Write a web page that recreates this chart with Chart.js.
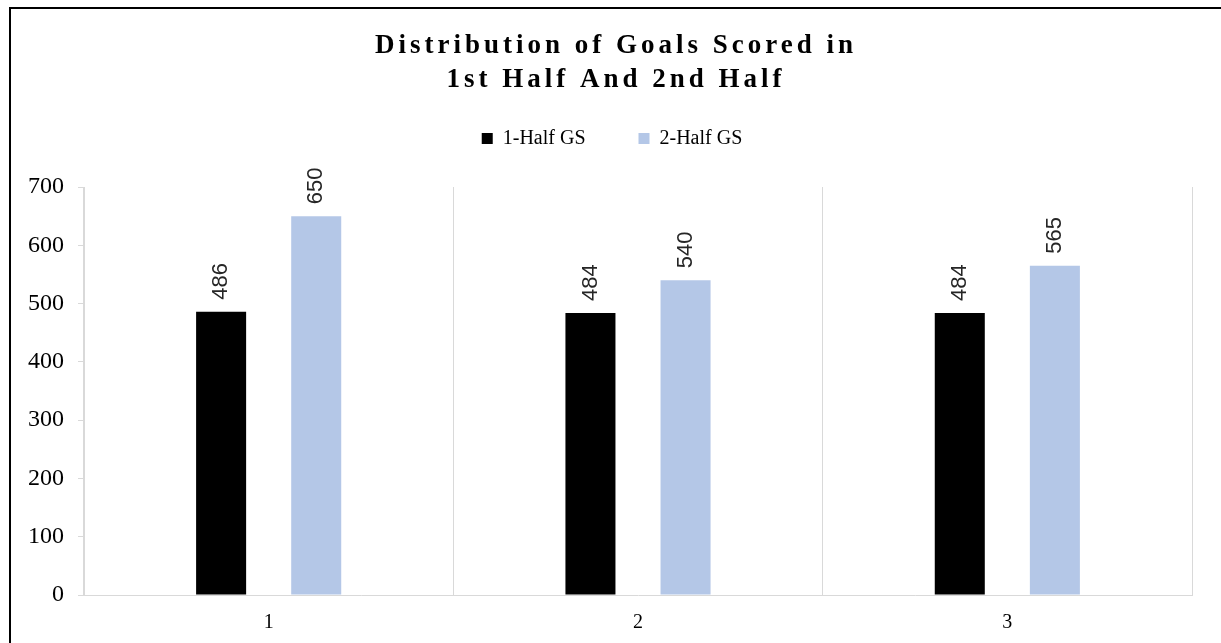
<!DOCTYPE html>
<html>
<head>
<meta charset="utf-8">
<script src="https://cdn.jsdelivr.net/npm/chart.js@4/dist/chart.umd.min.js"></script>
<style>
  html, body { margin: 0; padding: 0; background: #ffffff; }
  #wrap { width: 1221px; height: 643px; position: relative; }
</style>
</head>
<body>
<div id="wrap"><canvas id="chart" width="1221" height="643"></canvas></div>
<script>
// Match periods and goal counts per half
const periods = ['1', '2', '3'];
const firstHalfGoals = [486, 484, 484];
const secondHalfGoals = [650, 540, 565];
const seriesNames = ['1-Half GS', '2-Half GS'];
const yTicks = [0, 100, 200, 300, 400, 500, 600, 700];

const serif = "'Liberation Serif', 'Times New Roman', serif";
const sans = "'Liberation Sans', Arial, sans-serif";
const gridGray = '#d9d9d9';

// Header geometry
const TITLE_SIZE = 27;
const TITLE_LINE = 1.25;
const TITLE_PAD_TOP = 29;
const TITLE_PAD_BOTTOM = 5;
const PLOT_TOP = 187;
const TITLE_SHIFT_X = 20;      // center title over the plot rather than the canvas
const LEGEND_SHIFT_X = 16;
const LEGEND_SHIFT_Y = -26;

// Thin black frame along the top and left edges of the figure
const framePlugin = {
  id: 'frame',
  afterDraw(chart) {
    const ctx = chart.ctx;
    ctx.save();
    ctx.fillStyle = '#000000';
    ctx.fillRect(9, 7, chart.width - 9, 2);
    ctx.fillRect(9, 7, 2, chart.height - 7);
    ctx.restore();
  }
};

// Letter-spaced, shifted title and a legend block that reaches down to the plot top
const headerPlugin = {
  id: 'header',
  beforeLayout(chart) {
    const block = chart.titleBlock;
    if (block && !block._patched) {
      const orig = block.draw;
      block.draw = function () {
        const ctx = this.ctx;
        ctx.save();
        ctx.letterSpacing = '4px';
        ctx.translate(TITLE_SHIFT_X, 0);
        orig.call(this);
        ctx.restore();
      };
      block._patched = true;
    }
    const legend = chart.legend;
    if (legend && !legend._patched) {
      const origDraw = legend.draw;
      const origFit = legend.fit;
      legend.fit = function () {
        origFit.call(this);
        const titleH = chart.titleBlock ? chart.titleBlock.height : 0;
        this.height = PLOT_TOP - titleH;
      };
      legend.draw = function () {
        const ctx = this.ctx;
        ctx.save();
        ctx.translate(LEGEND_SHIFT_X, LEGEND_SHIFT_Y);
        origDraw.call(this);
        ctx.restore();
      };
      legend._patched = true;
    }
  }
};

// Rotated value labels above each bar
const valueLabelPlugin = {
  id: 'valueLabels',
  afterDatasetsDraw(chart) {
    const ctx = chart.ctx;
    ctx.save();
    ctx.font = '22px ' + sans;
    ctx.fillStyle = '#262626';
    ctx.textAlign = 'left';
    ctx.textBaseline = 'middle';
    chart.data.datasets.forEach((ds, di) => {
      const meta = chart.getDatasetMeta(di);
      meta.data.forEach((bar, i) => {
        ctx.save();
        ctx.translate(bar.x, bar.y - 12);
        ctx.rotate(-Math.PI / 2);
        ctx.fillText(String(ds.data[i]), 0, 0);
        ctx.restore();
      });
    });
    ctx.restore();
  }
};

new Chart(document.getElementById('chart'), {
  type: 'bar',
  data: {
    labels: periods,
    datasets: [
      { label: seriesNames[0], data: firstHalfGoals, backgroundColor: '#000000',
        categoryPercentage: 0.515, barPercentage: 0.526 },
      { label: seriesNames[1], data: secondHalfGoals, backgroundColor: '#b4c7e7',
        categoryPercentage: 0.515, barPercentage: 0.526 }
    ]
  },
  options: {
    responsive: false,
    animation: false,
    devicePixelRatio: 1,
    layout: { padding: { left: 0, right: 29, top: 0, bottom: 0 } },
    plugins: {
      title: {
        display: true,
        text: ['Distribution of Goals Scored in', '1st Half And 2nd Half'],
        color: '#000000',
        font: { family: serif, size: TITLE_SIZE, weight: 'bold', lineHeight: TITLE_LINE },
        padding: { top: TITLE_PAD_TOP, bottom: TITLE_PAD_BOTTOM }
      },
      legend: {
        display: true,
        position: 'top',
        labels: {
          color: '#000000',
          font: { family: serif, size: 20 },
          boxWidth: 11,
          boxHeight: 11,
          padding: 53
        }
      },
      tooltip: { enabled: false }
    },
    scales: {
      x: {
        offset: true,
        grid: { display: true, offset: true, drawTicks: false, color: gridGray, lineWidth: 1 },
        border: { display: true, color: gridGray, width: 1 },
        ticks: { color: '#000000', font: { family: serif, size: 20 }, padding: 16 },
        afterFit(scale) { scale.height = 48; }
      },
      y: {
        min: 0,
        max: 700,
        afterBuildTicks(scale) { scale.ticks = yTicks.map(v => ({ value: v })); },
        grid: { display: true, drawOnChartArea: false, drawTicks: true, tickLength: 6, color: gridGray },
        border: { display: true, color: gridGray, width: 1 },
        ticks: { color: '#000000', font: { family: serif, size: 24 }, padding: 14 },
        afterFit(scale) { scale.width = 84; }
      }
    }
  },
  plugins: [framePlugin, headerPlugin, valueLabelPlugin]
});
</script>
</body>
</html>
